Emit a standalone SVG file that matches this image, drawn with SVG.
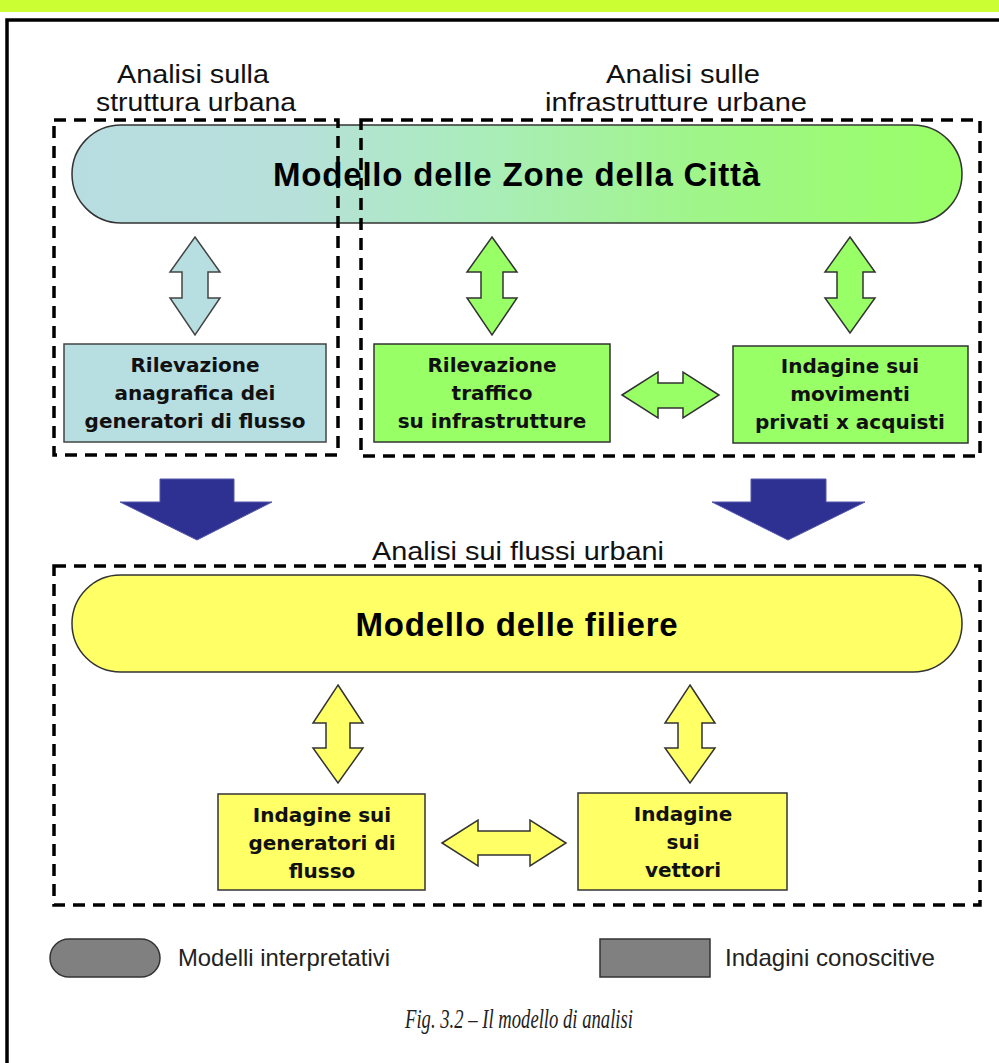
<svg xmlns="http://www.w3.org/2000/svg" width="999" height="1063" viewBox="0 0 999 1063">
<defs>
<linearGradient id="gTop" x1="72" y1="0" x2="962" y2="0" gradientUnits="userSpaceOnUse">
<stop offset="0" stop-color="#b8dde1"/>
<stop offset="0.25" stop-color="#b7e0da"/>
<stop offset="0.45" stop-color="#aaecbc"/>
<stop offset="0.7" stop-color="#a0f58a"/>
<stop offset="1" stop-color="#99ff66"/>
</linearGradient>
<style>
.hdr{font-family:"Liberation Sans",Arial,sans-serif;font-size:25px;fill:#111;text-anchor:middle}
.big{font-family:"Liberation Sans",Arial,sans-serif;font-size:33px;font-weight:bold;fill:#000;text-anchor:middle;letter-spacing:0.8px}
.box{font-family:"DejaVu Sans",sans-serif;font-size:20px;font-weight:bold;fill:#111;text-anchor:middle}
.leg{font-family:"Liberation Sans",Arial,sans-serif;font-size:24px;fill:#222}
.cap{font-family:"Liberation Serif","Times New Roman",serif;font-size:27px;font-style:italic;fill:#222;text-anchor:middle}
.dash{fill:none;stroke:#000;stroke-width:3.5;stroke-dasharray:12 8}
.blue{fill:#b7dee0;stroke:#444;stroke-width:1.5}
.green{fill:#99ff66;stroke:#333;stroke-width:1.5}
.yellow{fill:#ffff66;stroke:#333;stroke-width:1.5}
.down{fill:#2e3192;stroke:#5557a8;stroke-width:1}
</style>
</defs>
<rect x="0" y="0" width="999" height="1063" fill="#ffffff"/>
<rect x="0" y="0" width="999" height="12" fill="#ccff33"/>
<rect x="7" y="20" width="1010" height="1100" fill="none" stroke="#000" stroke-width="3.5"/>

<g id="labels">
<text class="hdr" x="193" y="83" textLength="152" lengthAdjust="spacingAndGlyphs">Analisi sulla</text>
<text class="hdr" x="196" y="111" textLength="200" lengthAdjust="spacingAndGlyphs">struttura urbana</text>
<text class="hdr" x="683" y="83" textLength="154" lengthAdjust="spacingAndGlyphs">Analisi sulle</text>
<text class="hdr" x="676" y="111" textLength="262" lengthAdjust="spacingAndGlyphs">infrastrutture urbane</text>
<text class="hdr" x="518" y="560" textLength="292" lengthAdjust="spacingAndGlyphs">Analisi sui flussi urbani</text>
</g>

<g id="zone-model">
<rect x="72" y="125" width="890" height="98" rx="49" ry="49" fill="url(#gTop)" stroke="#333" stroke-width="1.5"/>
<text class="big" x="517" y="186">Modello delle Zone della Città</text>
</g>

<g id="group-struttura">
<rect class="dash" x="54" y="120" width="284" height="335"/>
</g>
<g id="group-infrastrutture">
<rect class="dash" x="361" y="120" width="619" height="336"/>
</g>

<g id="rilevazione-anagrafica">
<rect class="blue" x="64" y="344" width="262" height="98"/>
<text class="box" x="195" y="372">Rilevazione</text>
<text class="box" x="195" y="400">anagrafica dei</text>
<text class="box" x="195" y="428">generatori di flusso</text>
</g>

<g id="rilevazione-traffico">
<rect class="green" x="374" y="344" width="236" height="98"/>
<text class="box" x="492" y="372">Rilevazione</text>
<text class="box" x="492" y="400">traffico</text>
<text class="box" x="492" y="428">su infrastrutture</text>
</g>

<g id="indagine-movimenti">
<rect class="green" x="733" y="346" width="235" height="97" stroke="#111" stroke-width="2"/>
<text class="box" x="850" y="373">Indagine sui</text>
<text class="box" x="850" y="401">movimenti</text>
<text class="box" x="850" y="429">privati x acquisti</text>
</g>

<g id="filiere-model">
<rect class="dash" x="54" y="566" width="926" height="339"/>
<rect x="72" y="575" width="890" height="97" rx="48.5" ry="48.5" fill="#ffff66" stroke="#333" stroke-width="1.5"/>
<text class="big" x="517" y="636">Modello delle filiere</text>
</g>

<g id="indagine-generatori">
<rect class="yellow" x="218" y="794" width="207" height="96"/>
<text class="box" x="322" y="822">Indagine sui</text>
<text class="box" x="322" y="850">generatori di</text>
<text class="box" x="322" y="878">flusso</text>
</g>

<g id="indagine-vettori">
<rect class="yellow" x="578" y="793" width="209" height="97" stroke="#111"/>
<text class="box" x="683" y="821">Indagine</text>
<text class="box" x="683" y="849">sui</text>
<text class="box" x="683" y="877">vettori</text>
</g>

<g id="connectors">
<polygon class="blue" points="195,237 220,272 208,272 208,298 220,298 195,335 170,298 182,298 182,272 170,272"/>
<polygon class="green" points="492,237 517,272 503,272 503,298 517,298 492,335 467,298 481,298 481,272 467,272"/>
<polygon class="green" points="850,237 875,272 863,272 863,298 875,298 850,333 825,298 837,298 837,272 825,272"/>
<polygon class="green" points="622,395 658,372 658,383 683,383 683,372 719,395 683,418 683,408 658,408 658,418"/>
<polygon class="down" points="160,479 234,479 234,502 272,502 197,540 120,502 160,502"/>
<polygon class="down" points="751,479 826,479 826,502 865,502 788,540 712,502 751,502"/>
<polygon class="yellow" points="338,685 363,723 350,723 350,748 363,748 338,783 313,748 326,748 326,723 313,723"/>
<polygon class="yellow" points="690,685 715,723 702,723 702,748 715,748 690,783 665,748 678,748 678,723 665,723"/>
<polygon class="yellow" points="442,843 478,820 478,831 530,831 530,820 566,843 530,866 530,855 478,855 478,866"/>
</g>

<g id="legend">
<rect x="50" y="939" width="110" height="38" rx="19" ry="19" fill="#808080" stroke="#333" stroke-width="1.5"/>
<text class="leg" x="178" y="966" textLength="212" lengthAdjust="spacingAndGlyphs">Modelli interpretativi</text>
<rect x="600" y="939" width="110" height="38" fill="#808080" stroke="#333" stroke-width="1.5"/>
<text class="leg" x="725" y="966" textLength="210" lengthAdjust="spacingAndGlyphs">Indagini conoscitive</text>
</g>

<text class="cap" x="519" y="1028" textLength="228" lengthAdjust="spacingAndGlyphs">Fig. 3.2 – Il modello di analisi</text>
</svg>
